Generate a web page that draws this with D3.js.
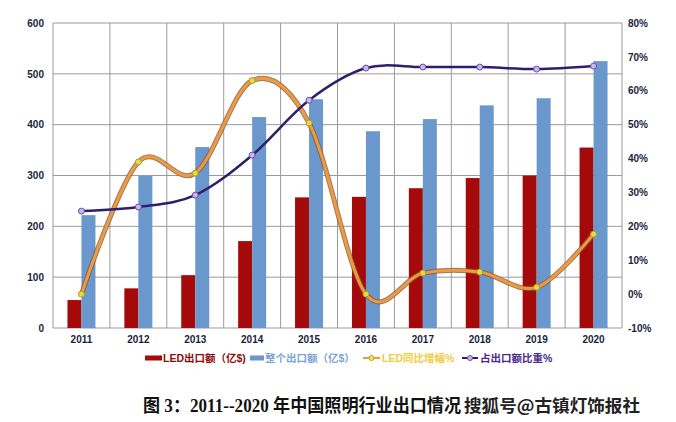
<!DOCTYPE html>
<html><head><meta charset="utf-8">
<script src="https://cdn.jsdelivr.net/npm/d3@7"></script>
<style>body{margin:0;background:#fff}svg{display:block}</style>
</head><body>
<svg id="c" width="676" height="422"></svg>
<script>
const years = ["2011","2012","2013","2014","2015","2016","2017","2018","2019","2020"];
const ledExport = [55, 78, 104, 171, 257, 258, 275, 295, 300, 355];
const totalExport = [222, 299, 356, 415, 450, 387, 411, 438, 452, 525];
const ledGrowth = [0, 39, 35.7, 63, 50.5, 0, 6.2, 6.5, 2, 17.7];
const ledShare = [24.5, 25.7, 29.2, 41, 57.2, 66.7, 67, 67, 66.4, 67.3];
const leftTicks = [0, 100, 200, 300, 400, 500, 600];
const rightTicks = [-10, 0, 10, 20, 30, 40, 50, 60, 70, 80];
const legendLabels = ["LED出口额（亿$)", "整个出口额（亿$）", "LED同比增幅%", "占出口额比重%"];
const caption = "图 3：2011--2020 年中国照明行业出口情况";
const watermark = "搜狐号@古镇灯饰报社";

const svg = d3.select("#c");
const L = 53, R = 622, T = 23, B = 328;
const x = d3.scaleBand().domain(years).range([L, R]);
const yL = d3.scaleLinear().domain([0, 600]).range([B, T]);
const yR = d3.scaleLinear().domain([-10, 80]).range([B, T]);
const font = "Arial, 'Liberation Sans', 'Noto Sans CJK SC', sans-serif";

// gridlines
const g = svg.append("g");
g.selectAll(".h").data(leftTicks).join("line")
  .attr("x1", L).attr("x2", R).attr("y1", d => yL(d)).attr("y2", d => yL(d))
  .attr("stroke", "#9a9a9a").attr("stroke-width", 1);
const vx = years.map(d => x(d)).concat([R]);
g.selectAll(".v").data(vx).join("line")
  .attr("x1", d => d).attr("x2", d => d).attr("y1", T).attr("y2", B)
  .attr("stroke", "#9a9a9a").attr("stroke-width", 1);

// axes labels
const axL = svg.append("g").attr("transform", `translate(${L},0)`)
  .call(d3.axisLeft(yL).tickValues(leftTicks).tickSize(0).tickPadding(9));
const axR = svg.append("g").attr("transform", `translate(${R},0)`)
  .call(d3.axisRight(yR).tickValues(rightTicks).tickSize(0).tickPadding(6).tickFormat(d => d + "%"));
const axB = svg.append("g").attr("transform", `translate(0,${B})`)
  .call(d3.axisBottom(x).tickSize(0).tickPadding(8));
[axL, axR, axB].forEach(a => {
  a.select(".domain").remove();
  a.selectAll("text").attr("fill", "#1b1f3b").style("font", `bold 10px ${font}`);
});

// bars
const bw = 14;
svg.append("g").selectAll("rect").data(ledExport).join("rect")
  .attr("x", (d, i) => x(years[i]) + x.bandwidth() / 2 - bw)
  .attr("width", bw).attr("y", d => yL(d)).attr("height", d => B - yL(d))
  .attr("fill", "#a50a0a");
svg.append("g").selectAll("rect").data(totalExport).join("rect")
  .attr("x", (d, i) => x(years[i]) + x.bandwidth() / 2)
  .attr("width", bw).attr("y", d => yL(d)).attr("height", d => B - yL(d))
  .attr("fill", "#6a98cc");

const cx = i => x(years[i]) + x.bandwidth() / 2;
const line = d3.line().x((d, i) => cx(i)).y(d => yR(d)).curve(d3.curveCardinal.tension(0));

// growth line (orange with dark outline)
svg.append("path").datum(ledGrowth).attr("d", line).attr("fill", "none")
  .attr("stroke", "#8a5a30").attr("stroke-width", 5).attr("stroke-opacity", 0.8);
svg.append("path").datum(ledGrowth).attr("d", line).attr("fill", "none")
  .attr("stroke", "#ec9a44").attr("stroke-width", 3);
svg.append("g").selectAll("circle").data(ledGrowth).join("circle")
  .attr("cx", (d, i) => cx(i)).attr("cy", d => yR(d)).attr("r", 3)
  .attr("fill", "#e8d84a").attr("stroke", "#a8a020").attr("stroke-width", 1);

// share line
svg.append("path").datum(ledShare).attr("d", line).attr("fill", "none")
  .attr("stroke", "#2f1d6e").attr("stroke-width", 2.5);
svg.append("g").selectAll("circle").data(ledShare).join("circle")
  .attr("cx", (d, i) => cx(i)).attr("cy", d => yR(d)).attr("r", 3)
  .attr("fill", "#c9b8ec").attr("stroke", "#6a4aa8").attr("stroke-width", 1);

// legend
const lg = svg.append("g").style("font", `bold 10.5px ${font}`);
const ly = 358;
lg.append("rect").attr("x", 145).attr("y", ly - 2.5).attr("width", 17).attr("height", 5).attr("fill", "#a50a0a");
lg.append("text").attr("x", 163).attr("y", ly + 4).attr("fill", "#8a0c0c").text(legendLabels[0]);
lg.append("rect").attr("x", 250).attr("y", ly - 2.5).attr("width", 14).attr("height", 5).attr("fill", "#6a98cc");
lg.append("text").attr("x", 265).attr("y", ly + 4).attr("fill", "#7fa3d6").text(legendLabels[1]);
lg.append("line").attr("x1", 363).attr("x2", 380).attr("y1", ly).attr("y2", ly).attr("stroke", "#e0a040").attr("stroke-width", 2);
lg.append("circle").attr("cx", 371.5).attr("cy", ly).attr("r", 2.5).attr("fill", "#f0e060").attr("stroke", "#c0a020");
lg.append("text").attr("x", 382).attr("y", ly + 4).attr("fill", "#f2cc3a").text(legendLabels[2]);
lg.append("line").attr("x1", 462).attr("x2", 478).attr("y1", ly).attr("y2", ly).attr("stroke", "#2f1d6e").attr("stroke-width", 2);
lg.append("circle").attr("cx", 470).attr("cy", ly).attr("r", 2.5).attr("fill", "#c9b8ec").attr("stroke", "#6a4aa8");
lg.append("text").attr("x", 480).attr("y", ly + 4).attr("fill", "#4a2a8a").text(legendLabels[3]);

// caption
svg.append("text").attr("x", 143).attr("y", 412)
  .attr("textLength", 318).attr("lengthAdjust", "spacingAndGlyphs")
  .style("font", "bold 18px 'Liberation Serif', 'Noto Sans CJK SC', serif").attr("fill", "#111")
  .text(caption);
svg.append("text").attr("x", 464).attr("y", 412)
  .attr("textLength", 176).attr("lengthAdjust", "spacingAndGlyphs")
  .style("font", "bold 17px 'Noto Sans CJK SC', sans-serif").attr("fill", "#222")
  .text(watermark);
</script>
</body></html>
